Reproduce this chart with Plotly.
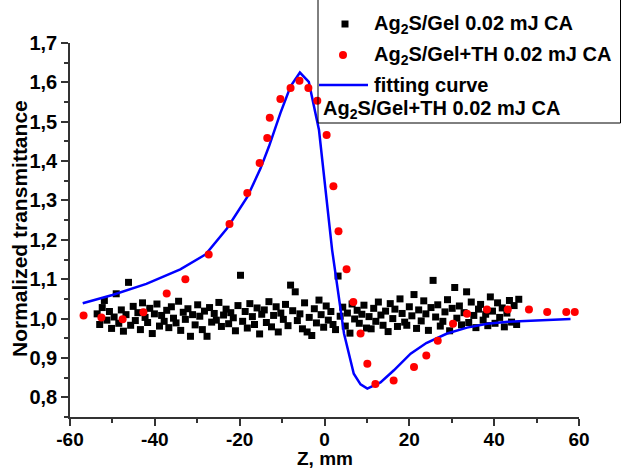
import plotly.graph_objects as go

# Ag2S/Gel 0.02 mJ CA (black squares)
gel_z = [
    -53.6, -53.0, -52.4, -51.9, -51.3, -50.7, -50.2, -49.6, -49.1, -48.5,
    -47.9, -47.4, -46.8, -46.2, -45.7, -45.1, -44.6, -44.0, -43.4, -42.9,
    -42.3, -41.7, -41.2, -40.6, -40.1, -39.5, -38.9, -38.4, -37.8, -37.2,
    -36.7, -36.1, -35.6, -35.0, -34.4, -33.9, -33.3, -32.8, -32.2, -31.6,
    -31.1, -30.5, -29.9, -29.4, -28.8, -28.3, -27.7, -27.1, -26.6, -26.0,
    -25.5, -24.9, -24.3, -23.8, -23.2, -22.6, -22.1, -21.5, -21.0, -20.4,
    -19.8, -19.3, -18.7, -18.2, -17.6, -17.0, -16.5, -15.9, -15.3, -14.8,
    -14.2, -13.7, -13.1, -12.5, -12.0, -11.4, -10.9, -10.3, -9.7, -9.2,
    -8.6, -8.0, -7.5, -6.9, -6.4, -5.8, -5.2, -4.7, -4.1, -3.6,
    -3.0, -2.4, -1.9, -1.3, -0.8, -0.2, 0.4, 0.9, 1.5, 2.0,
    2.6, 3.2, 3.7, 4.3, 4.9, 5.4, 6.0, 6.5, 7.1, 7.7,
    8.2, 8.8, 9.3, 9.9, 10.5, 11.0, 11.6, 12.1, 12.7, 13.3,
    13.8, 14.4, 15.0, 15.5, 16.1, 16.6, 17.2, 17.8, 18.3, 18.9,
    19.4, 20.0, 20.6, 21.1, 21.7, 22.2, 22.8, 23.4, 23.9, 24.5,
    25.1, 25.6, 26.2, 26.7, 27.3, 27.9, 28.4, 29.0, 29.5, 30.1,
    30.7, 31.2, 31.8, 32.3, 32.9, 33.5, 34.0, 34.6, 35.2, 35.7,
    36.3, 36.8, 37.4, 38.0, 38.5, 39.1, 39.6, 40.2, 40.8, 41.3,
    41.9, 42.4, 43.0, 43.6, 44.1, 44.7, 45.3, 45.8,
]
gel_t = [
    1.012, 0.985, 1.028, 1.046, 0.996, 1.018, 0.975, 1.004, 1.063, 0.988,
    1.022, 0.968, 1.010, 1.092, 0.983, 1.031, 0.995, 1.015, 0.972, 1.040,
    1.003, 0.990, 1.026, 0.962, 1.012, 1.037, 0.981, 1.008, 0.993, 1.021,
    0.977, 1.030, 1.001, 0.989, 1.044, 0.970, 1.016, 0.998, 1.025, 0.955,
    1.010, 0.984, 1.035, 1.006, 0.972, 1.019, 0.955, 1.028, 0.991, 1.013,
    0.996, 1.041, 0.980, 1.009, 1.024, 0.987, 1.015, 1.002, 0.969, 1.033,
    1.110, 0.993, 1.018, 0.976, 1.038, 1.005, 0.985, 1.027, 0.961, 1.011,
    1.022, 0.990, 1.043, 0.979, 1.008, 1.030, 0.966, 1.014, 0.998, 1.036,
    0.982, 1.085, 1.020, 1.068, 0.995, 1.012, 0.974, 1.040, 0.966, 1.003,
    0.957, 1.025, 0.989, 1.047, 1.010, 0.978, 1.032, 0.996, 1.018, 0.985,
    0.972, 1.108, 1.006, 1.029, 0.981, 1.014, 0.963, 1.037, 0.999, 1.021,
    0.988, 1.011, 1.034, 0.976, 1.005, 0.974, 1.026, 0.993, 1.042, 1.009,
    0.983, 1.019, 0.967, 1.038, 1.000, 1.024, 0.980, 1.050, 1.013, 0.991,
    0.983, 1.030, 1.007, 1.061, 0.975, 1.022, 0.994, 1.045, 1.012, 0.970,
    1.028, 1.097, 1.004, 1.035, 0.981, 0.993, 1.017, 1.048, 0.969, 1.026,
    1.079, 1.001, 1.032, 0.984, 1.015, 1.068, 0.990, 1.042, 1.008, 0.977,
    1.024, 1.036, 0.996, 1.011, 0.982, 1.055, 1.019, 0.988, 1.040, 1.003,
    1.027, 0.979, 1.014, 1.046, 0.991, 1.033, 0.985, 1.049,
]

# Ag2S/Gel+TH 0.02 mJ CA (red circles)
th_z = [-56.8, -52.6, -47.6, -42.7, -37.2, -32.8, -27.3, -22.4, -18.2, -15.3,
        -13.5, -12.9, -10.4, -8.0, -5.9, -3.8, -1.7, 0.5, 2.1, 3.3,
        5.2, 6.8, 8.5, 10.1, 12.0, 16.3, 21.1, 24.0, 26.7, 30.3,
        33.6, 38.3, 43.2, 48.2, 52.5, 57.0, 59.0]
th_t = [1.008, 1.003, 0.998, 1.016, 1.064, 1.100, 1.163, 1.240, 1.319, 1.395,
        1.459, 1.510, 1.558, 1.586, 1.604, 1.586, 1.553, 1.466, 1.336, 1.222,
        1.125, 1.042, 0.962, 0.885, 0.834, 0.843, 0.877, 0.906, 0.944, 0.987,
        1.012, 1.023, 1.023, 1.023, 1.017, 1.017, 1.017]

# fitting curve
fit_z = [-57.0, -50.0, -42.0, -34.0, -28.0, -23.0, -18.2, -15.1, -13.1, -10.4,
         -8.0, -5.8, -3.7, -1.3, 1.8, 4.6, 6.9, 8.5, 10.1, 13.2,
         16.3, 20.3, 24.0, 28.9, 33.6, 38.4, 43.2, 48.6, 52.5, 58.0]
fit_t = [1.039, 1.060, 1.088, 1.125, 1.163, 1.229, 1.309, 1.381, 1.437, 1.522,
         1.590, 1.625, 1.601, 1.479, 1.174, 0.962, 0.860, 0.833, 0.822, 0.838,
         0.868, 0.911, 0.938, 0.962, 0.977, 0.987, 0.992, 0.995, 0.997, 0.999]

x_ticks = [-60, -40, -20, 0, 20, 40, 60]
x_tick_text = ["-60", "-40", "-20", "0", "20", "40", "60"]

W, H = 622, 468
L, R, T, B = 70, 43, 43, 51
PW, PH = W - L - R, H - T - B


def px(x):
    return (x - L) / PW


def py(y):
    return (H - B - y) / PH


font = dict(family="Liberation Sans, Arial", size=20, color="black", weight="bold")
axis_col = "#333333"

fig = go.Figure()
fig.add_trace(go.Scatter(x=gel_z, y=gel_t, mode="markers",
                         marker=dict(symbol="square", size=7, color="black"),
                         showlegend=False))
fig.add_trace(go.Scatter(x=fit_z, y=fit_t, mode="lines",
                         line=dict(color="#0000ff", width=2.5),
                         showlegend=False))
fig.add_trace(go.Scatter(x=th_z, y=th_t, mode="markers",
                         marker=dict(symbol="circle", size=8, color="#ff0000"),
                         showlegend=False))

# legend drawn by hand (Origin style box)
shapes = [
    dict(type="rect", xref="paper", yref="paper", x0=px(318), x1=px(620.5),
         y0=py(123), y1=py(-10), line=dict(color="black", width=1)),
    dict(type="rect", xref="paper", yref="paper", x0=px(341.5), x1=px(348.5),
         y0=py(27.5), y1=py(20.5), fillcolor="black", line=dict(width=0)),
    dict(type="circle", xref="paper", yref="paper", x0=px(339), x1=px(347),
         y0=py(59), y1=py(51), fillcolor="#ff0000", line=dict(width=0)),
    dict(type="line", xref="paper", yref="paper", x0=px(319), x1=px(368),
         y0=py(85), y1=py(85), line=dict(color="#0000ff", width=2.5)),
]
leg_text = [
    (372, 24, "Ag<sub>2</sub>S/Gel 0.02 mJ CA"),
    (372, 55, "Ag<sub>2</sub>S/Gel+TH 0.02 mJ CA"),
    (372, 85, "fitting curve"),
    (321, 109, "Ag<sub>2</sub>S/Gel+TH 0.02 mJ CA"),
]
annotations = [dict(x=px(x0), y=py(y0), xref="paper", yref="paper", text=t,
                    showarrow=False, xanchor="left", yanchor="middle", font=font)
               for x0, y0, t in leg_text]
# axis titles
annotations.append(dict(x=0.5, y=py(458), xref="paper", yref="paper", text="Z, mm",
                        showarrow=False, xanchor="center", yanchor="middle",
                        borderpad=0, font=dict(font, size=19)))
annotations.append(dict(x=px(19), y=py(229), xref="paper", yref="paper",
                        text="Normalized transmittance", textangle=-90,
                        showarrow=False, xanchor="center", yanchor="middle",
                        borderpad=0, font=dict(font, size=21)))

fig.update_layout(
    width=W, height=H,
    margin=dict(l=L, r=R, t=T, b=B, autoexpand=False),
    paper_bgcolor="white", plot_bgcolor="white",
    separators=", ",
    font=font,
    shapes=shapes,
    annotations=annotations,
    showlegend=False,
)
fig.update_xaxes(
    range=[-60, 60], tickmode="array", tickvals=x_ticks, ticktext=x_tick_text,
    showgrid=False, zeroline=False, showline=True, linecolor=axis_col, linewidth=1.5,
    ticks="outside", ticklen=7, tickwidth=1.5, tickcolor=axis_col,
    minor=dict(tickmode="linear", tick0=0, dtick=10, ticks="outside", ticklen=4,
               tickwidth=1.5, tickcolor=axis_col),
    tickfont=dict(font, size=19), automargin=False, ticklabelstandoff=-3,
)
fig.update_yaxes(
    range=[0.75, 1.7], tickmode="linear", tick0=0.8, dtick=0.1, tickformat=".1f",
    showgrid=False, zeroline=False, showline=True, linecolor=axis_col, linewidth=1.5,
    ticks="outside", ticklen=7, tickwidth=1.5, tickcolor=axis_col,
    minor=dict(tickmode="linear", tick0=0.75, dtick=0.05, ticks="outside", ticklen=4,
               tickwidth=1.5, tickcolor=axis_col),
    tickfont=font, automargin=False,
)

# the page's default body margin would shift the whole figure by 8 px
fig.write_html("out.html", config={"displayModeBar": False},
               post_script="document.body.style.margin='0';")
